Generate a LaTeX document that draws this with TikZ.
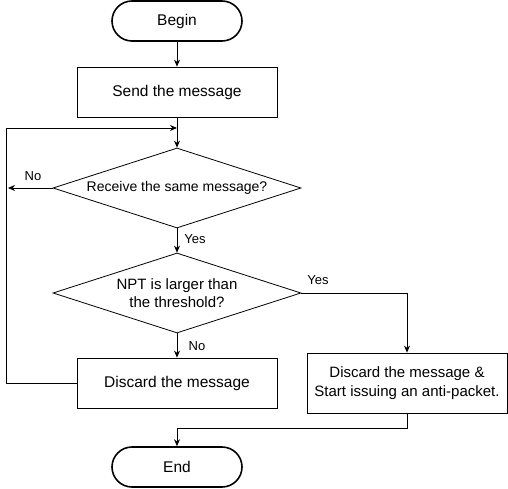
\documentclass[tikz,border=0pt]{standalone}
\usepackage{fontspec}
\setmainfont{Liberation Sans}
\usetikzlibrary{shapes.geometric,arrows.meta}
\begin{document}
\begin{tikzpicture}[x=1pt,y=-1pt,
  term/.style={draw,line width=1.6pt,rounded corners=20pt,minimum width=130pt,minimum height=40pt,inner sep=0pt,font=\fontsize{15.5}{18}\selectfont},
  proc/.style={draw,line width=0.8pt,minimum width=200pt,minimum height=50pt,inner sep=0pt,font=\fontsize{15.5}{18}\selectfont,align=center},
  dec/.style={draw,diamond,aspect=3.1,line width=0.8pt,minimum width=248pt,minimum height=80pt,inner sep=0pt,align=center},
  conn/.style={line width=0.8pt},
  arr/.style={conn,-{Stealth[length=7pt,width=6pt]}},
  lbl/.style={font=\fontsize{13}{15}\selectfont}
]
\useasboundingbox (0,0) rectangle (508,489);
\node[term] (begin) at (177,21) {Begin};
\node[proc] (send) at (177,92) {Send the message};
\node[dec,font=\fontsize{14}{17}\selectfont] (d1) at (177,188) {Receive the same message?};
\node[dec,font=\fontsize{15}{18}\selectfont] (d2) at (177,293) {NPT is larger than\\the threshold?};
\node[proc] (disc) at (177,383) {Discard the message};
\node[proc,minimum height=60pt,font=\fontsize{15}{19}\selectfont] (box2) at (407,383) {Discard the message \&\\Start issuing an anti-packet.};
\node[term] (end) at (177,467) {End};
\coordinate (j) at (177,128);
\coordinate (noend) at (8,188);
\draw[arr] (begin) -- (send);
\draw[arr] (send) -- (d1);
\draw[arr] (disc.west) -- ++(-70,0) |- (j);
\draw[arr] (d1.west) -- (noend);
\node[lbl] (lno1) at (33,176) {No};
\draw[arr] (d1.south) -- (d2.north);
\node[lbl] (lyes1) at (195,239) {Yes};
\draw[arr] (d2.east) -| (box2.north);
\node[lbl] (lyes2) at (318,280) {Yes};
\draw[arr] (d2.south) -- (disc.north);
\node[lbl] (lno2) at (197,346) {No};
\draw[arr] (box2.south) -- ++(0,15) -| (end.north);
\end{tikzpicture}
\end{document}
